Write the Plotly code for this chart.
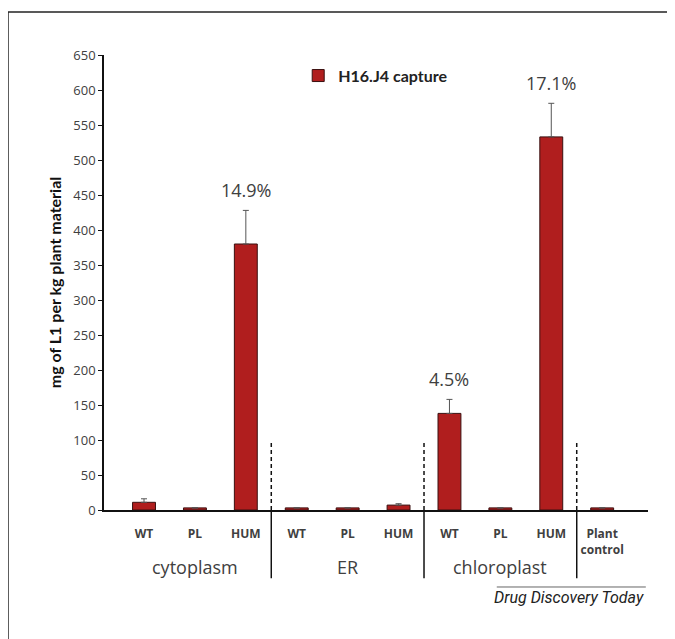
import plotly.graph_objects as go

# ---- data ----
categories = ["WT", "PL", "HUM", "WT", "PL", "HUM", "WT", "PL", "HUM", "Plant<br>control"]
groups = ["cytoplasm", "ER", "chloroplast"]
group_sizes = [3, 3, 3, 1]
values = [11, 3, 380, 3, 3, 7, 138, 3, 533, 3]
errors = [5, 0, 48, 0, 0, 2, 20, 0, 48, 0]
pct_labels = {2: "14.9%", 6: "4.5%", 8: "17.1%"}
series_name = "H16.J4 capture"
y_ticks = list(range(0, 651, 50))

xs = list(range(len(categories)))
BAR = "#B01E1E"
TXT = "#404040"

fig = go.Figure()
fig.add_trace(go.Bar(
    x=xs, y=values, name=series_name,
    marker=dict(color=BAR, line=dict(color="#3a1010", width=1)),
    width=0.45,
    error_y=dict(type="data", array=errors, arrayminus=[0] * len(errors),
                 symmetric=False, color="#555555", thickness=1, width=3),
    showlegend=True,
))

annotations = []
for i, t in pct_labels.items():
    annotations.append(dict(x=i, y=values[i] + errors[i], xref="x", yref="y",
                            text=t, showarrow=False, yshift=20,
                            font=dict(family="Open Sans, sans-serif", size=18, color=TXT)))

shapes = []
# group dividers
bounds = []
acc = 0
for s in group_sizes[:-1]:
    acc += s
    bounds.append(acc - 0.5)
for b in bounds:
    shapes.append(dict(type="line", xref="x", yref="y", x0=b, x1=b, y0=0, y1=100,
                       line=dict(color="#111111", width=1.5, dash="4px,3px")))
    shapes.append(dict(type="line", xref="x", yref="paper", x0=b, x1=b, y0=0, y1=-0.15,
                       line=dict(color="#111111", width=1.5)))

# group labels
start = 0
for g, s in zip(groups, group_sizes):
    annotations.append(dict(x=start + (s - 1) / 2, y=-0.125, xref="x", yref="paper",
                            text=g, showarrow=False, yanchor="middle",
                            font=dict(family="Open Sans, sans-serif", size=18, color=TXT)))
    start += s

# frame
shapes.append(dict(type="line", xref="paper", yref="paper", x0=-0.1765, x1=-0.1765,
                   y0=1.0945, y1=-0.32, line=dict(color="#222222", width=1.5)))
shapes.append(dict(type="line", xref="paper", yref="paper", x0=-0.1765, x1=1.08,
                   y0=1.0945, y1=1.0945, line=dict(color="#222222", width=1.5)))
# source line and label
shapes.append(dict(type="line", xref="paper", yref="paper", x0=0.722, x1=0.996,
                   y0=-0.1692, y1=-0.1692, line=dict(color="#666666", width=1)))
annotations.append(dict(x=0.996, y=-0.193, xref="paper", yref="paper",
                        text="<i>Drug Discovery Today</i>", showarrow=False,
                        xanchor="right", yanchor="middle",
                        font=dict(family="Liberation Sans Narrow, Roboto, sans-serif",
                                  size=16, color="#222222")))

fig.update_layout(
    width=675, height=639,
    margin=dict(l=96, r=35, t=47, b=137),
    paper_bgcolor="white", plot_bgcolor="white",
    shapes=shapes, annotations=annotations,
    legend=dict(x=0.357, y=0.992, xanchor="left", yanchor="top",
                font=dict(family="Lato, sans-serif", size=16, color="#222222"),
                bgcolor="rgba(0,0,0,0)", itemwidth=30),
    xaxis=dict(range=[-0.786, 9.9], tickvals=xs, ticktext=[f"<b>{c}</b>" for c in categories],
               showline=True, linecolor="#111111", linewidth=1.5, ticks="",
               ticklabelstandoff=12,
               showgrid=False, zeroline=False,
               tickfont=dict(family="Open Sans, sans-serif", size=12, color=TXT)),
    yaxis=dict(range=[0, 650], tickvals=y_ticks, showline=True, linecolor="#111111",
               linewidth=1.5, ticks="outside", ticklen=4, tickcolor="#111111",
               showgrid=False, zeroline=False,
               tickfont=dict(family="Open Sans, sans-serif", size=13, color=TXT),
               title=dict(text="<b>mg of L1 per kg plant material</b>", standoff=8,
                          font=dict(family="Lato, sans-serif", size=16, color="#111111"))),
)
fig.data[0].name = "<b>" + series_name + "</b>"

fig.write_html("out.html")
